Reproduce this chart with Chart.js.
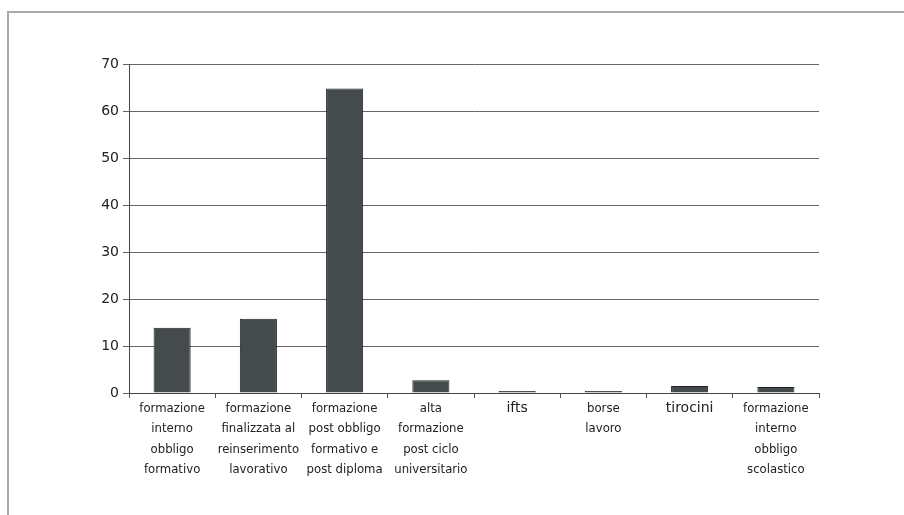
<!DOCTYPE html>
<html>
<head>
<meta charset="utf-8">
<script src="https://cdn.jsdelivr.net/npm/chart.js@4/dist/chart.umd.min.js"></script>
<style>
  html, body { margin: 0; padding: 0; background: #fff; }
  #frame { position: absolute; left: 7px; top: 11px; width: 1000px; height: 600px;
           border-top: 2px solid #aaa; border-left: 2px solid #aaa; }
  #wrap { position: absolute; left: 0; top: 0; width: 904px; height: 515px; }
</style>
</head>
<body>
<div id="frame"></div>
<div id="wrap"><canvas id="chart-bars"></canvas></div>
<script>
// categories (multi-line labels) and values
var categories = [
  ["formazione", "interno", "obbligo", "formativo"],
  ["formazione", "finalizzata al", "reinserimento", "lavorativo"],
  ["formazione", "post obbligo", "formativo e", "post diploma"],
  ["alta", "formazione", "post ciclo", "universitario"],
  "ifts",
  ["borse", "lavoro"],
  "tirocini",
  ["formazione", "interno", "obbligo", "scolastico"]
];
var values = [13.9, 15.8, 64.8, 2.7, 0.4, 0.4, 1.5, 1.3];
var yTicks = [0, 10, 20, 30, 40, 50, 60, 70];

// single-word labels use the wider font like the original
var wideLabels = [4, 6];

new Chart(document.getElementById("chart-bars"), {
  type: 'bar',
  data: {
    labels: categories,
    datasets: [{
      data: values,
      backgroundColor: "#454b4c",
      borderColor: "#1e2222",
      borderWidth: 1,
      barPercentage: 0.43,
      categoryPercentage: 1
    }]
  },
  options: {
    responsive: true,
    maintainAspectRatio: false,
    animation: false,
    layout: { padding: { left: 0, right: 85, top: 64, bottom: 0 } },
    plugins: { legend: { display: false }, tooltip: { enabled: false } },
    scales: {
      x: {
        grid: { display: true, drawOnChartArea: false, offset: true, tickLength: 5, color: "#555" },
        border: { color: "#444", width: 1 },
        ticks: {
          color: "#222",
          maxRotation: 0,
          autoSkip: false,
          padding: 0,
          font: function (ctx) {
            if (wideLabels.indexOf(ctx.index) >= 0) {
              return { family: "DejaVu Sans", size: 14, lineHeight: 1.45 };
            }
            return { family: "DejaVu Sans Condensed", size: 13, lineHeight: 1.58 };
          }
        },
        afterFit: function (scale) { scale.height = 122; }
      },
      y: {
        min: 0,
        max: 70,
        afterBuildTicks: function (scale) {
          scale.ticks = yTicks.map(function (v) { return { value: v }; });
        },
        grid: { color: "#666", tickLength: 6, lineWidth: 1 },
        border: { color: "#444", width: 1 },
        ticks: {
          color: "#222",
          padding: 4,
          font: { family: "DejaVu Sans", size: 14 }
        },
        afterFit: function (scale) { scale.width = 129; }
      }
    }
  }
});
</script>
</body>
</html>
